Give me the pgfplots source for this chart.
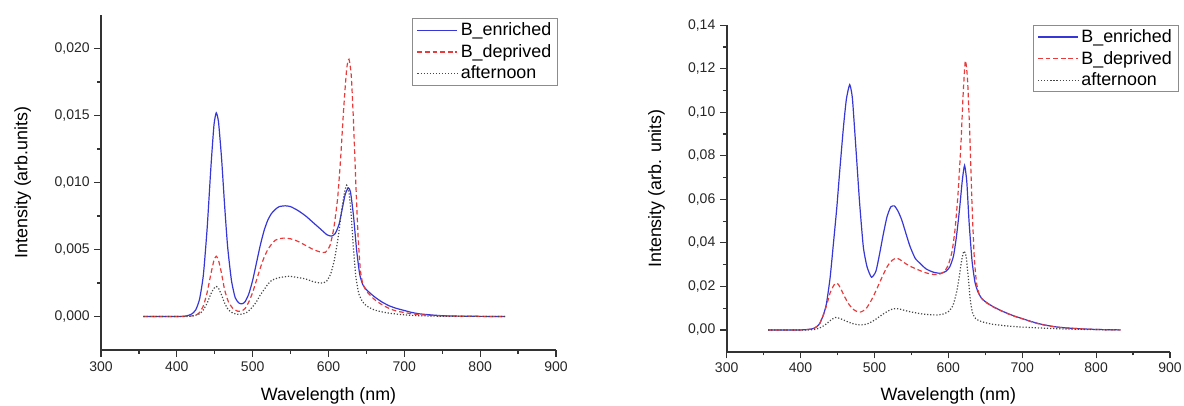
\documentclass[border=0pt]{standalone}
\usepackage{fontspec}
\setmainfont{Liberation Sans}
\usepackage{pgfplots}
\pgfplotsset{compat=1.18}
\definecolor{cblue}{RGB}{55,55,215}
\definecolor{cred}{RGB}{232,60,60}
\definecolor{cdot}{RGB}{70,70,70}

\pgfplotsset{
  spec/.style={
    scale only axis,
    axis x line=bottom, axis y line=left,
    axis line style={-, line width=1.3pt, black!80},
    tick align=outside,
    major tick length=5pt, minor tick length=2.8pt,
    tick style={line width=0.9pt, black!80},
    xmin=300, xmax=900, xtick={300,400,...,900},
    minor x tick num=1, minor y tick num=1,
    scaled y ticks=false,
    /pgf/number format/assume math mode=true,
    ticklabel style={font=\fontsize{10.5}{12}\selectfont, black!85},
    label style={font=\fontsize{13.4}{15}\selectfont},
    xlabel={Wavelength (nm)},
    legend cell align=left,
    legend style={draw=black!45, line width=0.6pt,
      font=\fontsize{13.4}{15}\selectfont, inner xsep=3pt, inner ysep=1pt,
      row sep=1pt, anchor=north east},
    legend image code/.code={\draw[#1, line width=1pt] (0pt,0pt) -- (30pt,0pt);},
  },
  sb/.style={draw=cblue, line width=0.9pt, smooth, tension=0.35},
  sr/.style={draw=cred, line width=0.9pt, dash pattern=on 3.5pt off 2.2pt, smooth, tension=0.35},
  sk/.style={draw=cdot, line width=0.9pt, dash pattern=on 0.9pt off 1.4pt, smooth, tension=0.35},
}

\begin{document}
\begin{tikzpicture}
\useasboundingbox (0,0) rectangle (888pt,303.75pt);

\begin{axis}[spec,
  at={(75.75pt,41.25pt)}, anchor=south west,
  width=341.25pt, height=251.25pt,
  ymin=-0.0025, ymax=0.0225,
  ytick={0,0.005,...,0.0201},
  yticklabel style={/pgf/number format/fixed, /pgf/number format/fixed zerofill,
    /pgf/number format/precision=3, /pgf/number format/use comma},
  xlabel style={at={(axis description cs:0.5,0)}, anchor=center, yshift=-34.5pt},
  ylabel={Intensity (arb.units)},
  ylabel style={at={(axis description cs:-0.172,0.5)}, anchor=center},
  legend style={at={(axis description cs:1.005,0.99)}},
]
\addplot[sb] coordinates {
(356,0) (380,0) (400,0) (410,0.00002) (415,0.00008) (420,0.0002) (425,0.0005)
(430,0.0013) (435,0.0031) (440,0.0066) (445,0.0112) (449,0.0143) (452,0.0152)
(455,0.0145) (459,0.0118) (463,0.0083) (467,0.0052) (472,0.0027) (477,0.0014)
(482,0.0010) (486,0.00095) (490,0.0011) (495,0.0017) (500,0.0027) (505,0.0040)
(510,0.0053) (515,0.0064) (520,0.0072) (525,0.0077) (530,0.0080) (535,0.0082)
(543,0.00826) (550,0.0082) (560,0.0079) (570,0.0075) (580,0.0070) (590,0.0065)
(598,0.0061) (604,0.0060) (609,0.0062) (614,0.0069) (618,0.0080) (622,0.0091)
(626,0.0096) (629,0.0093) (633,0.0075) (637,0.0050) (641,0.0032) (645,0.0024)
(650,0.0020) (660,0.0015) (670,0.0011) (680,0.0008) (690,0.0006) (700,0.00045)
(710,0.0003) (720,0.0002) (735,0.00012) (750,0.00006) (770,0.00003) (800,0.00001) (833,0)
};
\addlegendentry{B\_enriched}
\addplot[sr] coordinates {
(356,0) (400,0) (415,0.00002) (420,0.00005) (425,0.0001) (430,0.0003) (435,0.0008)
(440,0.0018) (445,0.0032) (449,0.0042) (452,0.0045) (455,0.0042) (459,0.0032)
(463,0.0020) (468,0.0011) (474,0.0006) (480,0.0004) (485,0.0004) (490,0.0006)
(495,0.0011) (500,0.0018) (505,0.0027) (510,0.0036) (515,0.0044) (520,0.0050)
(525,0.0054) (530,0.0057) (540,0.00585) (550,0.0058) (560,0.0056) (570,0.0053)
(580,0.0050) (590,0.0048) (596,0.0048) (602,0.0053) (607,0.0066) (612,0.0088)
(616,0.0118) (620,0.0155) (624,0.0185) (627,0.0192) (630,0.0180) (633,0.0145)
(636,0.0100) (639,0.0060) (642,0.0035) (645,0.0025) (650,0.0019) (660,0.0013)
(670,0.0009) (680,0.0006) (690,0.0004) (700,0.0003) (710,0.0002) (725,0.00012)
(740,0.00006) (760,0.00003) (833,0)
};
\addlegendentry{B\_deprived}
\addplot[sk] coordinates {
(356,0) (410,0) (420,0.00003) (430,0.0002) (435,0.0005) (440,0.0010) (445,0.0017)
(449,0.0021) (452,0.00224) (455,0.0021) (459,0.0016) (463,0.0010) (468,0.0005)
(474,0.00025) (480,0.00017) (486,0.00018) (492,0.0003) (498,0.0006) (505,0.0011)
(510,0.0016) (515,0.0020) (520,0.0024) (525,0.0027) (535,0.0029) (548,0.0030)
(560,0.0029) (570,0.0028) (580,0.0026) (590,0.0025) (597,0.0026) (603,0.0032)
(608,0.0043) (613,0.0060) (617,0.0078) (621,0.0092) (624,0.0098) (627,0.0093)
(630,0.0075) (633,0.0050) (636,0.0030) (640,0.0017) (645,0.0011) (650,0.0008)
(660,0.0005) (670,0.00035) (680,0.00025) (700,0.00012) (720,0.00006) (750,0.00002) (833,0)
};
\addlegendentry{afternoon}
\end{axis}

\begin{axis}[spec,
  at={(545pt,40pt)}, anchor=south west,
  width=332.5pt, height=244.8pt,
  ymin=-0.01, ymax=0.14,
  ytick={0,0.02,...,0.141},
  yticklabel style={/pgf/number format/fixed, /pgf/number format/fixed zerofill,
    /pgf/number format/precision=2, /pgf/number format/use comma},
  xlabel style={at={(axis description cs:0.5,0)}, anchor=center, yshift=-33pt},
  ylabel={Intensity (arb. units)},
  ylabel style={at={(axis description cs:-0.158,0.5)}, anchor=center},
  legend style={at={(axis description cs:1.02,1.0)}},
]
\addplot[sb] coordinates {
(356,0) (400,0) (410,0.0002) (417,0.0006) (422,0.0015) (426,0.003) (431,0.007)
(435,0.012) (440,0.024) (444,0.038) (449,0.056) (453,0.073) (458,0.093) (462,0.106)
(466.5,0.1127) (470,0.107) (473,0.093) (476,0.078) (480,0.058) (485,0.038) (490,0.029)
(496,0.0242) (502,0.027) (507,0.035) (512,0.044) (517,0.052) (522,0.0565) (527,0.057)
(532,0.0545) (537,0.0505) (542,0.045) (548,0.0385) (555,0.033) (562,0.0305) (570,0.028)
(580,0.0265) (590,0.026) (597,0.027) (602,0.029) (607,0.034) (611,0.043) (615,0.055)
(619,0.069) (622,0.0756) (625,0.068) (628,0.050) (632,0.032) (636,0.022) (640,0.0175)
(645,0.0145) (650,0.013) (660,0.0108) (670,0.0091) (680,0.0076) (690,0.0063) (700,0.0052)
(710,0.0041) (720,0.0031) (730,0.0023) (740,0.0017) (750,0.0012) (765,0.0008) (780,0.0005)
(800,0.0002) (833,0)
};
\addlegendentry{B\_enriched}
\addplot[sr] coordinates {
(356,0) (400,0) (410,0.0002) (417,0.0006) (422,0.0015) (426,0.003) (431,0.007)
(435,0.011) (440,0.017) (445,0.0205) (448,0.0215) (451,0.021) (455,0.0185) (460,0.015)
(466,0.0115) (472,0.0093) (478,0.0082) (482,0.0083) (488,0.0095) (494,0.0125) (500,0.0165)
(506,0.021) (512,0.0255) (518,0.0295) (524,0.032) (530,0.033) (536,0.032) (542,0.0305)
(550,0.029) (560,0.0275) (570,0.0262) (580,0.0255) (588,0.0256) (595,0.027) (600,0.030)
(605,0.036) (609,0.046) (613,0.062) (617,0.085) (620,0.108) (623,0.1237) (626,0.115)
(629,0.090) (632,0.058) (635,0.034) (638,0.022) (642,0.016) (646,0.0142) (650,0.0128)
(660,0.0107) (670,0.009) (680,0.0075) (690,0.0062) (700,0.0051) (710,0.0040) (720,0.0030)
(730,0.0022) (740,0.0016) (750,0.0012) (765,0.0008) (780,0.0005) (800,0.0002) (833,0)
};
\addlegendentry{B\_deprived}
\addplot[sk] coordinates {
(356,0) (410,0) (420,0.0003) (428,0.0012) (435,0.0028) (441,0.0045) (447,0.0057)
(453,0.0053) (460,0.0043) (467,0.0033) (474,0.0026) (480,0.0023) (486,0.0024) (492,0.0030)
(500,0.0045) (508,0.0064) (515,0.008) (522,0.0093) (528,0.0098) (535,0.0095) (545,0.0086)
(555,0.0079) (565,0.0073) (575,0.0070) (585,0.0069) (593,0.0073) (600,0.0084) (606,0.011)
(611,0.017) (615,0.025) (618,0.032) (621,0.0362) (624,0.034) (627,0.024) (630,0.013)
(633,0.0075) (637,0.0052) (642,0.0042) (648,0.0035) (660,0.0026) (680,0.0018) (700,0.0013)
(730,0.0008) (760,0.0004) (790,0.0002) (833,0)
};
\addlegendentry{afternoon}
\end{axis}
\end{tikzpicture}
\end{document}
